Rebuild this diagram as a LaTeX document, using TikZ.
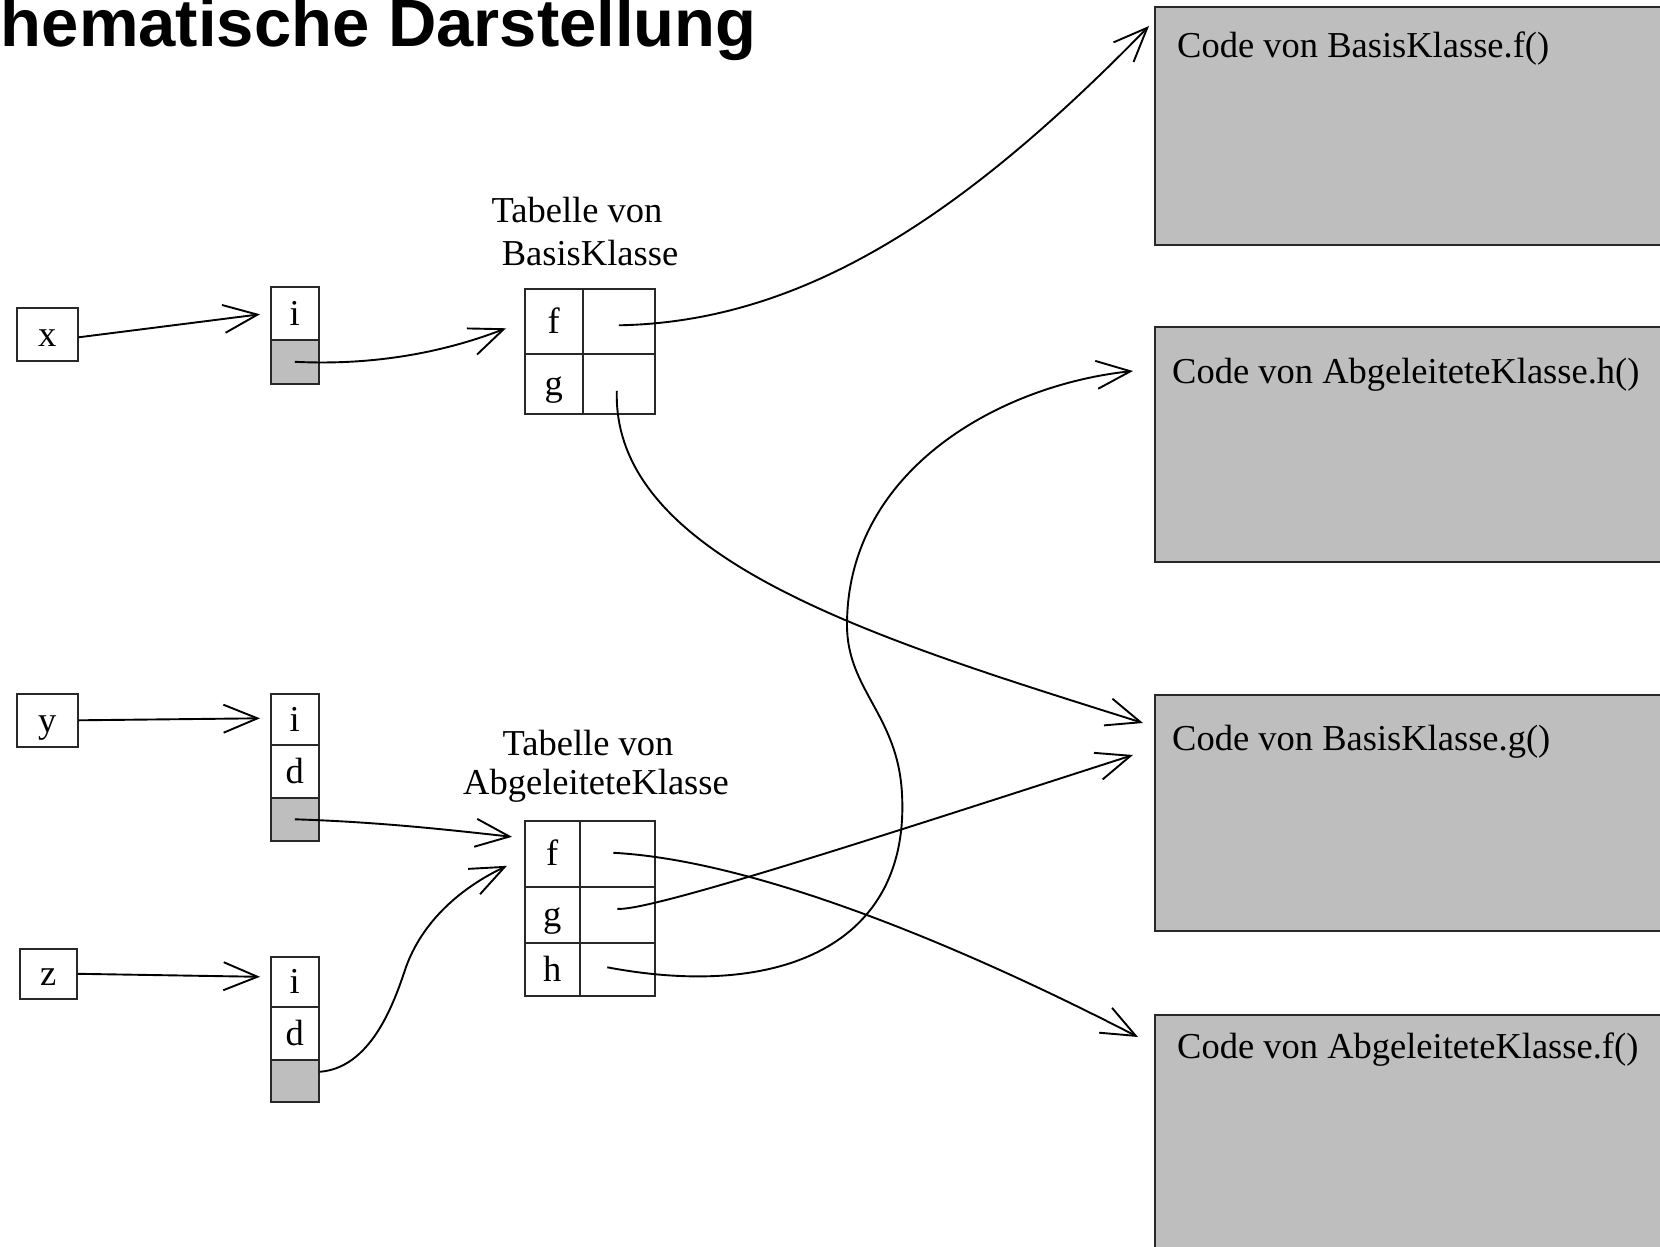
\documentclass[tikz,border=0pt]{standalone}
\usepackage{fontspec}
\setmainfont{Liberation Serif}
\newfontfamily\titlefont{Liberation Sans}
\usetikzlibrary{arrows.meta,calc}
\definecolor{gbox}{RGB}{190,190,190}
\definecolor{edge}{RGB}{40,40,40}
\begin{document}
\begin{tikzpicture}[x=1pt,y=-1pt,
  lbl/.style={font=\fontsize{36.5}{42}\selectfont,inner sep=0pt},
  cellbox/.style={draw=edge,line width=1.6pt,inner sep=0pt,anchor=north west,
    text height=32pt,text depth=8pt,font=\fontsize{36.5}{42}\selectfont},
  greycell/.style={cellbox,fill=gbox},
  codebox/.style={draw=edge,line width=1.8pt,fill=gbox,inner sep=0pt,anchor=north west},
  conn/.style={line width=1.9pt,-{Straight Barb[length=34pt,width=28pt]}}
]
\useasboundingbox (0,0) rectangle (1660,1247);

% title
\node[anchor=base east,inner sep=0pt,font=\titlefont\bfseries\fontsize{67}{70}\selectfont] (title) at (757,47) {Schematische Darstellung};

% variables
\node[cellbox,minimum width=61pt,minimum height=53pt] (x) at (16,307) {x};
\node[cellbox,minimum width=61pt,minimum height=53pt] (y) at (16,693) {y};
\node[cellbox,minimum width=57pt,minimum height=50pt] (z) at (19,948) {z};

% object x
\node[cellbox,minimum width=48pt,minimum height=53pt] (xi) at (270,286) {i};
\node[greycell,minimum width=48pt,minimum height=44pt] (xp) at (270,339) {};
% object y
\node[cellbox,minimum width=48pt,minimum height=51pt] (yi) at (270,693) {i};
\node[cellbox,minimum width=48pt,minimum height=53pt] (yd) at (270,744) {d};
\node[greycell,minimum width=48pt,minimum height=43pt] (yp) at (270,797) {};
% object z
\node[cellbox,minimum width=48pt,minimum height=50pt] (zi) at (270,956) {i};
\node[cellbox,minimum width=48pt,minimum height=53pt] (zd) at (270,1006) {d};
\node[greycell,minimum width=48pt,minimum height=42pt] (zp) at (270,1059) {};

% table BasisKlasse
\node[lbl,anchor=base] (bt1) at (577,222) {Tabelle von};
\node[lbl,anchor=base] (bt2) at (590,265) {BasisKlasse};
\node[cellbox,minimum width=58pt,minimum height=65pt] (bf) at (524,288) {f};
\node[cellbox,minimum width=72pt,minimum height=65pt] (bfp) at (582,288) {};
\node[cellbox,minimum width=58pt,minimum height=60pt] (bg) at (524,353) {g};
\node[cellbox,minimum width=72pt,minimum height=60pt] (bgp) at (582,353) {};

% table AbgeleiteteKlasse
\node[lbl,anchor=base] (at1) at (588,755) {Tabelle von};
\node[lbl,anchor=base] (at2) at (596,794) {AbgeleiteteKlasse};
\node[cellbox,minimum width=55pt,minimum height=66pt] (af) at (524,820) {f};
\node[cellbox,minimum width=75pt,minimum height=66pt] (afp) at (579,820) {};
\node[cellbox,minimum width=55pt,minimum height=56pt] (ag) at (524,886) {g};
\node[cellbox,minimum width=75pt,minimum height=56pt] (agp) at (579,886) {};
\node[cellbox,minimum width=55pt,minimum height=53pt] (ah) at (524,942) {h};
\node[cellbox,minimum width=75pt,minimum height=53pt] (ahp) at (579,942) {};

% code boxes
\node[codebox,minimum width=600pt,minimum height=238pt] (c1) at (1154,6) {};
\node[codebox,minimum width=600pt,minimum height=235pt] (c2) at (1154,326) {};
\node[codebox,minimum width=600pt,minimum height=236pt] (c3) at (1154,694) {};
\node[codebox,minimum width=600pt,minimum height=300pt] (c4) at (1154,1014) {};
\node[lbl,anchor=base west] (c1t) at ($(c1.north west)+(23,52)$) {Code von BasisKlasse.f()};
\node[lbl,anchor=base west] (c2t) at ($(c2.north west)+(18,57)$) {Code von AbgeleiteteKlasse.h()};
\node[lbl,anchor=base west] (c3t) at ($(c3.north west)+(18,56)$) {Code von BasisKlasse.g()};
\node[lbl,anchor=base west] (c4t) at ($(c4.north west)+(23,44)$) {Code von AbgeleiteteKlasse.f()};

% connectors
\draw[conn] ($(x.east)+(0,3)$) -- ($(xi.west)+(-10,1)$);
\draw[conn] (xp.center) .. controls (380,366) and (450,350) .. ($(bf.west)+(-18,7)$);
\draw[conn] ($(bfp.center)+(0,4)$) .. controls (800,322) and (960,220) .. ($(c1.north west)+(-5,20)$);
\draw[conn] ($(bgp.center)+(-2,7)$) .. controls (612,560) and (880,640) .. ($(c3.north west)+(-11,29)$);

\draw[conn] (y.east) -- ($(yi.west)+(-10,-1)$);
\draw[conn] (yp.center) .. controls (380,822) and (450,830) .. ($(af.west)+(-12,-17)$);

\draw[conn] (z.east) -- ($(zi.west)+(-10,-5)$);
\draw[conn] ($(zp.east)+(0,-9)$) .. controls (370,1068) and (393,1006) .. (405,970)
   .. controls (418,931) and (450,893) .. ($(af.west)+(-17,12)$);

\draw[conn] ($(afp.center)+(-4,-1)$) .. controls (750,860) and (950,940) .. ($(c4.north west)+(-16,23)$);
\draw[conn] ($(agp.center)+(0,-6)$) .. controls (650,912) and (900,830) .. ($(c3.north west)+(-21,61)$);
\draw[conn] ($(ahp.center)+(-10,-2)$) .. controls (780,1000) and (910,945) .. (902,794)
   .. controls (898,715) and (847,690) .. (847,625)
   .. controls (847,470) and (1000,385) .. ($(c2.north west)+(-21,45)$);
\end{tikzpicture}
\end{document}
